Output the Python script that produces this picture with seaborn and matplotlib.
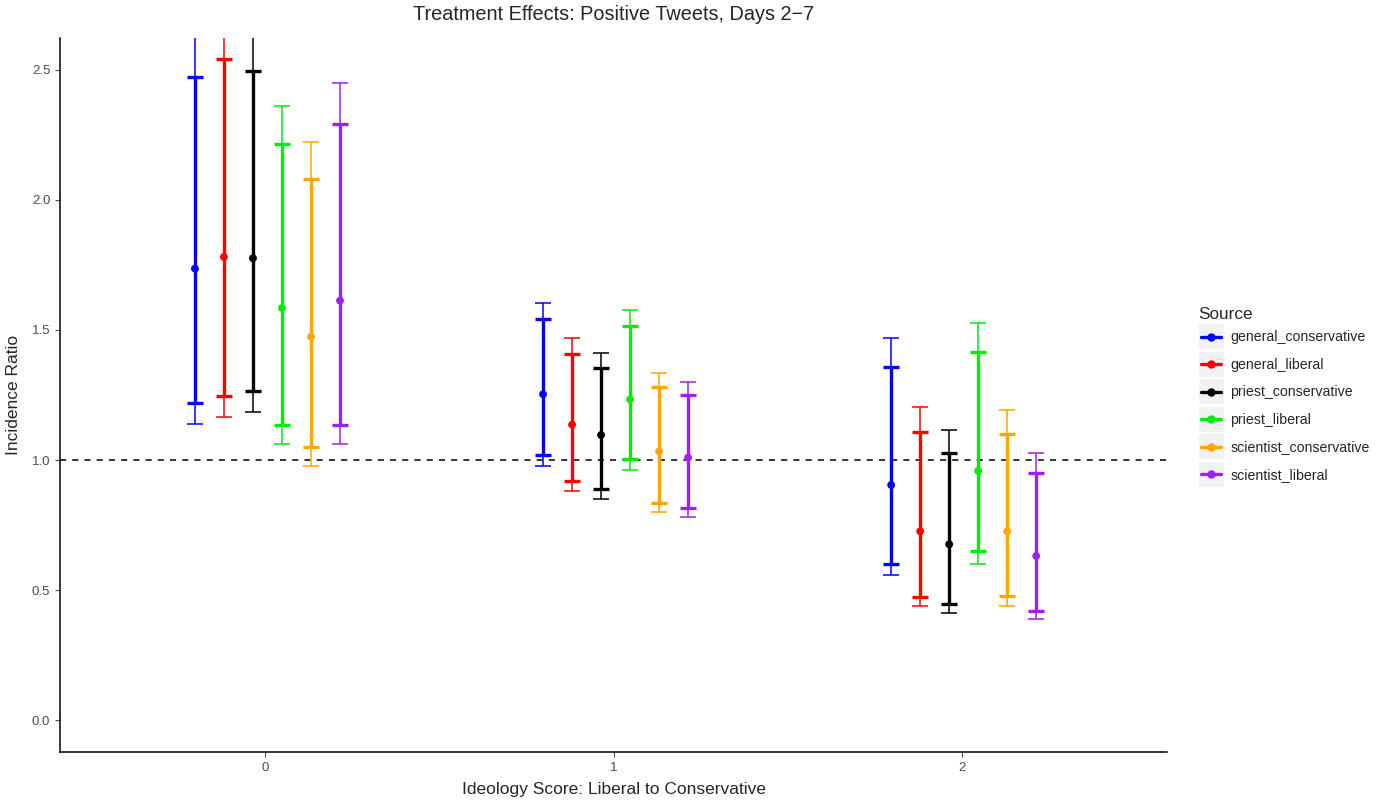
import numpy as np
import pandas as pd
import matplotlib
matplotlib.use("Agg")
import matplotlib.pyplot as plt
from matplotlib.lines import Line2D
from matplotlib.patches import Rectangle
from matplotlib.legend_handler import HandlerBase
import seaborn as sns

groups = [0, 1, 2]
sources = ["general_conservative", "general_liberal", "priest_conservative",
           "priest_liberal", "scientist_conservative", "scientist_liberal"]
colors = ["#0000ff", "#ff0000", "#000000", "#00ee00", "#ffa500", "#a020f0"]

# point estimates, one row per source, one column per ideology score
estimate = [[1.736, 1.253, 0.904],
            [1.781, 1.136, 0.726],
            [1.776, 1.096, 0.676],
            [1.585, 1.233, 0.958],
            [1.474, 1.033, 0.726],
            [1.613, 1.009, 0.631]]
inner_low = [[1.218, 1.019, 0.601],
             [1.247, 0.918, 0.474],
             [1.264, 0.887, 0.445],
             [1.135, 1.003, 0.649],
             [1.050, 0.835, 0.477],
             [1.133, 0.815, 0.419]]
inner_high = [[2.473, 1.541, 1.359],
              [2.541, 1.409, 1.109],
              [2.497, 1.355, 1.027],
              [2.214, 1.517, 1.415],
              [2.081, 1.282, 1.100],
              [2.291, 1.249, 0.949]]
outer_low = [[1.138, 0.978, 0.556],
             [1.165, 0.881, 0.437],
             [1.183, 0.851, 0.410],
             [1.063, 0.963, 0.601],
             [0.977, 0.801, 0.440],
             [1.060, 0.782, 0.388]]
outer_high = [[2.70, 1.604, 1.468],
              [2.75, 1.468, 1.203],
              [2.70, 1.413, 1.114],
              [2.360, 1.578, 1.526],
              [2.222, 1.336, 1.192],
              [2.451, 1.301, 1.027]]

rows = []
for i, src in enumerate(sources):
    for j, g in enumerate(groups):
        rows.append(dict(source=src, group=g,
                         x=g + (i - 2.5) * 0.5 / 6 + 0.006,
                         est=estimate[i][j], ilo=inner_low[i][j], ihi=inner_high[i][j],
                         olo=outer_low[i][j], ohi=outer_high[i][j]))
df = pd.DataFrame(rows)


class KeyHandler(HandlerBase):
    # ggplot style key: grey square with a line and a dot
    def create_artists(self, legend, orig_handle, xdescent, ydescent,
                       width, height, fontsize, trans):
        bg = Rectangle((-xdescent, -ydescent), width, height,
                       facecolor="#f2f2f2", edgecolor="none", transform=trans)
        yc = -ydescent + height / 2
        ln = Line2D([-xdescent + 2, -xdescent + width - 2], [yc, yc],
                    color=orig_handle.get_color(), lw=2.4, transform=trans)
        dot = Line2D([-xdescent + width / 2], [yc], marker="o", markersize=5,
                     color=orig_handle.get_color(), lw=0, transform=trans)
        return [bg, ln, dot]


sns.set_theme(style="ticks")
plt.rcParams["font.family"] = ["Liberation Sans", "DejaVu Sans"]

fig = plt.figure(figsize=(13.79, 8), dpi=100)
ax = fig.add_axes([60 / 1379, 48 / 800, (1167 - 60) / 1379, (752 - 38) / 800])

ax.axhline(1.0, color="black", lw=1.1, ls=(0, (4, 4)), zorder=1)

for i, src in enumerate(sources):
    d = df[df.source == src]
    ax.errorbar(d.x, d.est, yerr=[d.est - d.olo, d.ohi - d.est], fmt="none",
                ecolor=colors[i], elinewidth=1.1, capsize=5.5, capthick=1.1, zorder=2)
    ax.errorbar(d.x, d.est, yerr=[d.est - d.ilo, d.ihi - d.est], fmt="none",
                ecolor=colors[i], elinewidth=2.4, capsize=5.5, capthick=2.4, zorder=3)

sns.scatterplot(data=df, x="x", y="est", hue="source", hue_order=sources,
                palette=colors, s=32, edgecolor="none", legend=False, ax=ax, zorder=4)

ax.set_xlim(-0.59, 2.59)
ax.set_ylim(-0.123, 2.623)
ax.set_xticks(groups)
ax.set_xticklabels([str(g) for g in groups])
ax.set_yticks([0.0, 0.5, 1.0, 1.5, 2.0, 2.5])
ax.set_yticklabels(["0.0", "0.5", "1.0", "1.5", "2.0", "2.5"])
ax.tick_params(axis="both", colors="#4d4d4d", labelsize=9.5, length=3.5, width=0.8)
for s in ["top", "right"]:
    ax.spines[s].set_visible(False)
for s in ["left", "bottom"]:
    ax.spines[s].set_color("black")
    ax.spines[s].set_linewidth(1.1)

ax.set_xlabel("Ideology Score: Liberal to Conservative", fontsize=12.5, labelpad=6)
ax.set_ylabel("Incidence Ratio", fontsize=12.5, labelpad=8)
fig.text((60 + 1167) / 2 / 1379, 1 - 15 / 800, "Treatment Effects: Positive Tweets, Days 2\u22127",
         ha="center", va="center", fontsize=14.3)

handles = [Line2D([0], [0], color=c) for c in colors]
leg = fig.legend(handles, sources, title="Source", loc="upper left",
                 bbox_to_anchor=(1193 / 1379, 1 - 301 / 800),
                 frameon=False, fontsize=10.2, title_fontsize=12.3,
                 handler_map={Line2D: KeyHandler()},
                 handlelength=1.8, handleheight=2.3, labelspacing=0.2,
                 handletextpad=0.45, borderaxespad=0, alignment="left")

fig.savefig("out.png", dpi=100)
